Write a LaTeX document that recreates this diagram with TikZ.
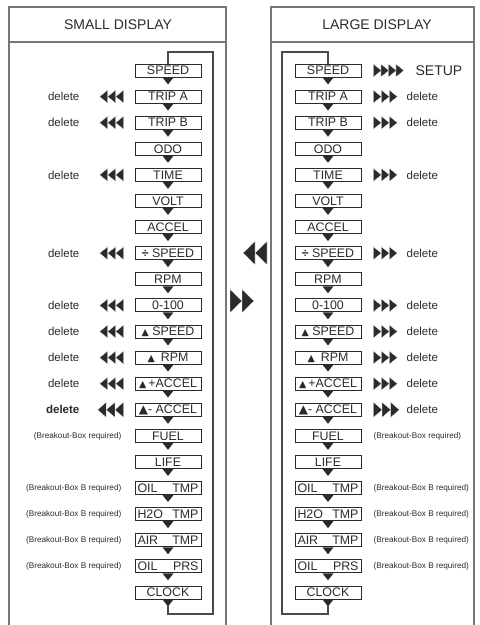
\documentclass[tikz,border=0pt]{standalone}
\usepackage{fontspec}
\setmainfont{Liberation Sans}
\newfontfamily\symfont{DejaVu Sans}
\usepackage{xcolor}
\definecolor{cInk}{HTML}{2B2B2B}
\definecolor{cFrame}{HTML}{777777}
\definecolor{cLoop}{HTML}{4A4A4A}
\usepackage{tikz}
\usetikzlibrary{positioning,calc}
\newcommand{\fs}[1]{\fontsize{#1}{#1}\selectfont}
\newcommand{\trimark}[1][9.5]{{\symfont\fontsize{#1}{#1}\selectfont ▲}}
\tikzset{
  disp-box/.style={draw=cInk,line width=0.9pt,minimum width=66pt,
    minimum height=13pt,inner sep=0pt,font=\fs{12.4},text=cInk},
  disp-title/.style={font=\fs{14},text=cInk},
  disp-frame/.style={draw=cFrame,line width=1.6pt},
  loop-line/.style={draw=cLoop,line width=1.1pt},
  note-del/.style={font=\fs{11.5},text=cInk,inner sep=0pt},
  note-brk/.style={font=\fs{8.2},text=cInk,inner sep=0pt},
  note-setup/.style={font=\fs{14},text=cInk,inner sep=0pt},
  tri-fill/.style={fill=cInk,draw=white,line width=0.3pt},
  % dreieckige Pfeilspitzen, Rueckseite bei x=0
  tri-l/.pic={\path[tri-fill] (0,-6.5) -- (-8,0) -- (0,6.5) -- cycle;},
  tri-r/.pic={\path[tri-fill] (0,-6.5) -- (8,0) -- (0,6.5) -- cycle;},
}

\begin{document}
\begin{tikzpicture}[x=1pt,y=-1pt]
  \useasboundingbox (0,0) rectangle (480,625);

  % Rahmen
  \draw[disp-frame] (9,625) -- (9,7) -- (226,7) -- (226,625);
  \draw[disp-frame] (9,42) -- (226,42);
  \draw[disp-frame] (271,625) -- (271,7) -- (474,7) -- (474,625);
  \draw[disp-frame] (271,42) -- (474,42);
  \node[disp-title] (tSmall) at (118,25) {SMALL DISPLAY};
  \node[disp-title] (tLarge) at (377,25) {LARGE DISPLAY};

  % Menuepunkte, links und rechts gleich
  \foreach \t [count=\i] in {SPEED, TRIP A, TRIP B, ODO, TIME, VOLT, ACCEL,
      {\textbf{÷} SPEED}, RPM, 0-100, {\trimark\ SPEED}, {\trimark\hspace{6pt}RPM},
      {\trimark\,+ACCEL}, {\trimark[12]- ACCEL}, FUEL, LIFE,
      {\makebox[61pt]{OIL\hfill TMP}}, {\makebox[61pt]{H2O\hfill TMP}},
      {\makebox[61pt]{AIR\hfill TMP}}, {\makebox[61pt]{OIL\hfill PRS}}, CLOCK} {
    \node[disp-box] (L\i) at (168,{70.5+26.1*(\i-1)}) {\t};
    \node[disp-box] (R\i) at (328,{70.5+26.1*(\i-1)}) {\t};
    \fill[cInk] ([xshift=-5.5pt]L\i.south) -- ([xshift=5.5pt]L\i.south)
      -- ([yshift=-7pt]L\i.south) -- cycle;
    \fill[cInk] ([xshift=-5.5pt]R\i.south) -- ([xshift=5.5pt]R\i.south)
      -- ([yshift=-7pt]R\i.south) -- cycle;
  }

  % Ruecksprung
  \coordinate (base) at (0,614);
  \coordinate (Ltop) at (213,52);
  \coordinate (Rtop) at (282,52);
  \draw[loop-line] ([yshift=-7pt]L21.south) -- (L21.south |- base) -| (Ltop) -| (L1.north);
  \draw[loop-line] ([yshift=-7pt]R21.south) -- (R21.south |- base) -| (Rtop) -| (R1.north);

  % delete-Zeilen
  \foreach \r in {2,3,5,8,10,11,12,13} {
    \node[note-del,left=55pt of L\r] (dL\r) {delete};
    \node[note-del,right=45pt of R\r] (dR\r) {delete};
    \foreach \k in {0,1,2} {
      \pic at ([xshift={-11-8*\k}]L\r.west) {tri-l};
      \pic at ([xshift={12+8*\k}]R\r.east) {tri-r};
    }
  }
  \node[note-del,font=\fs{11.5}\bfseries,left=55pt of L14] (dL14) {delete};
  \node[note-del,right=45pt of R14] (dR14) {delete};
  \foreach \k in {0,1,2} {
    \pic[xscale=1.1,yscale=1.18] at ([xshift={-11-8.6*\k}]L14.west) {tri-l};
    \pic[xscale=1.1,yscale=1.18] at ([xshift={12+8.6*\k}]R14.east) {tri-r};
  }

  % SETUP
  \node[note-setup,right=54pt of R1] (setup) {SETUP};
  \foreach \k in {0,...,3}
    \pic at ([xshift={12+7.5*\k}]R1.east) {tri-r};

  % Breakout-Box
  \node[note-brk,left=13pt of L15] (bL15) {(Breakout-Box required)};
  \node[note-brk,right=12pt of R15] (bR15) {(Breakout-Box required)};
  \foreach \r in {17,...,20} {
    \node[note-brk,left=13pt of L\r] (bL\r) {(Breakout-Box B required)};
    \node[note-brk,right=12pt of R\r] (bR\r) {(Breakout-Box B required)};
  }

  % Wechsel zwischen den Anzeigen
  \foreach \k in {0,1} {
    \pic[xscale=1.5,yscale=1.8] at (267-12*\k,253) {tri-l};
    \pic[xscale=1.5,yscale=1.8] at (230+12*\k,301) {tri-r};
  }
\end{tikzpicture}
\end{document}
